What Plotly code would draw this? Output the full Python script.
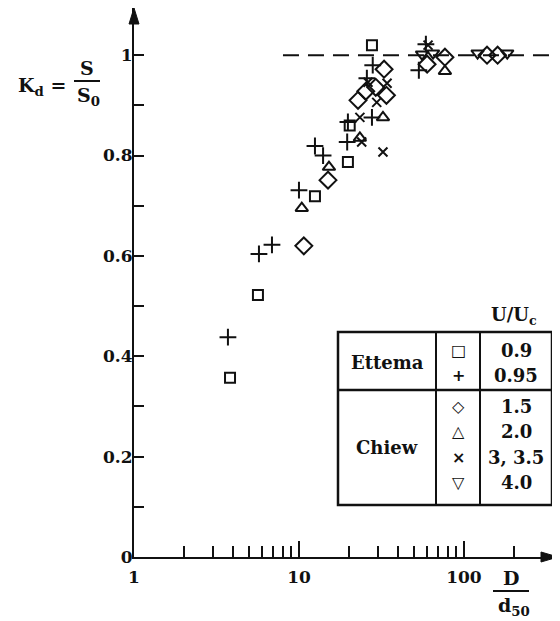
import plotly.graph_objects as go

# ---------------- data ----------------
ettema_090_x = [3.82, 5.64, 12.5, 19.8, 20.3, 27.7]
ettema_090_y = [0.357, 0.522, 0.719, 0.787, 0.860, 1.020]

ettema_095_x = [3.71, 5.72, 6.86, 10.0, 12.5, 14.0, 19.8, 19.6, 25.8, 28.0, 27.7, 53.3, 58.8]
ettema_095_y = [0.438, 0.604, 0.622, 0.731, 0.819, 0.800, 0.867, 0.827, 0.954, 0.980, 0.876, 0.970, 1.022]

chiew_15_x = [10.7, 15.0, 22.8, 25.4, 29.2, 33.9, 32.8, 59.8, 76.7, 138, 160]
chiew_15_y = [0.620, 0.751, 0.910, 0.928, 0.936, 0.920, 0.972, 0.982, 0.996, 1.000, 1.000]

chiew_20_x = [10.4, 15.2, 23.4, 32.3, 76.7]
chiew_20_y = [0.695, 0.777, 0.835, 0.876, 0.968]

chiew_3_x = [23.4, 24.0, 32.3, 29.6, 26.2, 34.2, 60.6]
chiew_3_y = [0.876, 0.827, 0.807, 0.906, 0.946, 0.944, 1.020]

chiew_40_x = [55.7, 65.0, 121, 183]
chiew_40_y = [1.002, 1.004, 1.004, 1.004]

ref_x = [8.0, 400.0]
ref_y = [1.0, 1.0]

x_tick_vals = [1, 10, 100]
x_tick_text = ["1", "10", "100"]
x_minor_vals = [2, 3, 4, 5, 6, 7, 8, 9, 20, 30, 40, 50, 60, 70, 80, 90, 200]
y_tick_vals = [0, 0.2, 0.4, 0.6, 0.8, 1.0]
y_tick_text = ["0", "0.2", "0.4", "0.6", "0.8", "1"]

legend_groups = ["Ettema", "Chiew"]
legend_symbols = ["\u25a1", "+", "\u25c7", "\u25b3", "\u00d7", "\u25bd"]
legend_values = ["0.9", "0.95", "1.5", "2.0", "3, 3.5", "4.0"]

# ---------------- layout geometry ----------------
# the page has an 8px body margin, so the figure is 8px smaller and
# positions below are given in page pixels and shifted by OFF.
OFF = 8
W, H = 560 - OFF, 621 - OFF
L, R, T, B = 126, 5, 0, 64
PW, PH = W - L - R, H - T - B


def px(xp):
    return (xp - OFF - L) / PW


def py(yp):
    return (H - B - (yp - OFF)) / PH


SERIF = "DejaVu Serif"
BLACK = "#111111"

fig = go.Figure()

fig.add_trace(go.Scatter(x=ref_x, y=ref_y, mode="lines",
                         line=dict(color=BLACK, width=2, dash="16px,9px"),
                         showlegend=False, hoverinfo="skip"))


def add_series(xs, ys, symbol, size, lw=2):
    fig.add_trace(go.Scatter(
        x=xs, y=ys, mode="markers", showlegend=False, cliponaxis=False,
        marker=dict(symbol=symbol, size=size, color=BLACK,
                    line=dict(color=BLACK, width=lw))))


add_series(ettema_090_x, ettema_090_y, "square-open", 10)
add_series(ettema_095_x, ettema_095_y, "cross-thin-open", 12)
add_series(chiew_15_x, chiew_15_y, "diamond-open", 13)
add_series(chiew_20_x, chiew_20_y, "triangle-up-open", 11)
add_series(chiew_3_x, chiew_3_y, "x-thin-open", 9)
add_series(chiew_40_x, chiew_40_y, "triangle-down-open", 11)

fig.update_xaxes(
    type="log", range=[0, 2.552], showgrid=False, zeroline=False,
    showline=True, linecolor=BLACK, linewidth=2,
    tickmode="array", tickvals=x_tick_vals,
    ticktext=["<b>" + t + "</b>" for t in x_tick_text],
    ticks="inside", ticklen=16, tickwidth=1.5, tickcolor=BLACK,
    tickfont=dict(family=SERIF, size=17, color=BLACK),
    ticklabelstandoff=4,
    minor=dict(tickmode="array", tickvals=x_minor_vals, ticks="inside",
               ticklen=11, tickwidth=1.5, tickcolor=BLACK, showgrid=False),
)
fig.update_yaxes(
    range=[0, 1.094], showgrid=False, zeroline=False,
    showline=True, linecolor=BLACK, linewidth=2,
    tickmode="array", tickvals=y_tick_vals,
    ticktext=["<b>" + t + "</b>" for t in y_tick_text],
    ticks="inside", ticklen=10, tickwidth=1.5, tickcolor=BLACK,
    tickfont=dict(family=SERIF, size=17, color=BLACK),
    ticklabelstandoff=-4,
    minor=dict(dtick=0.1, ticks="inside", ticklen=10, tickwidth=1.5,
               tickcolor=BLACK, showgrid=False),
)

shapes = []
# arrowheads
shapes.append(dict(type="path", xref="paper", yref="paper",
                   path=f"M {px(129)} {py(24)} L {px(134)} {py(8)} L {px(139)} {py(24)} Z",
                   fillcolor=BLACK, line=dict(color=BLACK, width=1)))
shapes.append(dict(type="path", xref="paper", yref="paper",
                   path=f"M {px(541)} {py(552)} L {px(558)} {py(557)} L {px(541)} {py(562)} Z",
                   fillcolor=BLACK, line=dict(color=BLACK, width=1)))
# fraction bars
shapes.append(dict(type="line", xref="paper", yref="paper",
                   x0=px(74), x1=px(100), y0=py(81), y1=py(81),
                   line=dict(color=BLACK, width=2)))
shapes.append(dict(type="line", xref="paper", yref="paper",
                   x0=px(493), x1=px(529), y0=py(591), y1=py(591),
                   line=dict(color=BLACK, width=2)))
# legend table
tx0, tx1, ty0, ty1 = 338, 552, 332, 505
shapes.append(dict(type="rect", xref="paper", yref="paper",
                   x0=px(tx0), x1=px(tx1), y0=py(ty0), y1=py(ty1),
                   line=dict(color=BLACK, width=2.5), fillcolor="white", layer="above"))
shapes.append(dict(type="line", xref="paper", yref="paper",
                   x0=px(tx0), x1=px(tx1), y0=py(390), y1=py(390),
                   line=dict(color=BLACK, width=2.5), layer="above"))
for cx in (436, 480):
    shapes.append(dict(type="line", xref="paper", yref="paper",
                       x0=px(cx), x1=px(cx), y0=py(ty0), y1=py(ty1),
                       line=dict(color=BLACK, width=2), layer="above"))

annotations = []


def text(xp, yp, s, size=16, family=SERIF, xanchor="center"):
    annotations.append(dict(x=px(xp), y=py(yp), xref="paper", yref="paper",
                            text=s, showarrow=False, xanchor=xanchor, yanchor="middle",
                            font=dict(family=family, size=size, color=BLACK)))


# y-axis title  K_d = S / S_0
text(42, 86, "<b>K<sub>d</sub> =</b>", size=19)
text(87, 68, "<b>S</b>", size=19)
text(88, 96, "<b>S<sub>0</sub></b>", size=19)
# x-axis title  D / d50
text(511, 578, "<b>D</b>", size=19)
text(514, 606, "<b>d<sub>50</sub></b>", size=19)
# legend header
text(514, 316, "<b>U/U<sub>c</sub></b>", size=18)
# legend body
text(387, 362, "<b>" + legend_groups[0] + "</b>", size=18)
text(387, 447, "<b>" + legend_groups[1] + "</b>", size=18)
sym_y = [350, 375, 406, 431, 457, 482]
for s, v, yy in zip(legend_symbols, legend_values, sym_y):
    text(458, yy, "<b>" + s + "</b>", size=16, family="DejaVu Sans")
    text(516, yy, "<b>" + v + "</b>", size=18)

fig.update_layout(
    width=W, height=H, autosize=False,
    margin=dict(l=L, r=R, t=T, b=B),
    plot_bgcolor="white", paper_bgcolor="white",
    shapes=shapes, annotations=annotations, showlegend=False,
)

fig.write_html("out.html")
